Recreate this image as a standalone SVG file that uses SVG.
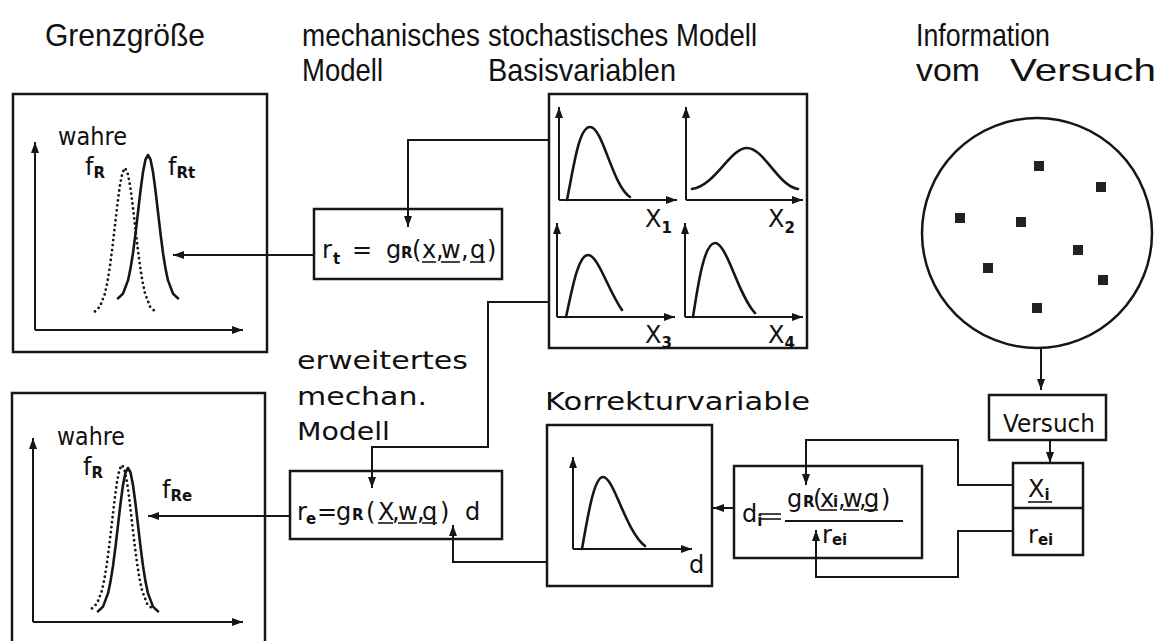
<svg xmlns="http://www.w3.org/2000/svg" width="1166" height="641" viewBox="0 0 1166 641">
<style>
.bx{fill:none;stroke:#161616;stroke-width:2.5}
.ln{fill:none;stroke:#161616;stroke-width:2}
.cv{fill:none;stroke:#161616;stroke-width:2.6;stroke-linecap:round;stroke-linejoin:round}
.dt{fill:none;stroke:#161616;stroke-width:2.8;stroke-linecap:round;stroke-dasharray:0 5}
.ul{stroke:#161616;stroke-width:1.6}
.hd{font-family:"Liberation Sans",Arial,sans-serif;font-size:32px;fill:#111}
.tx{font-family:"DejaVu Sans","Liberation Sans",sans-serif;font-size:24px;fill:#111}
.sb{font-family:"DejaVu Sans","Liberation Sans",sans-serif;font-size:15px;fill:#111;font-weight:bold}
.dot{fill:#222}
</style>
<defs>
<marker id="ah" markerUnits="userSpaceOnUse" markerWidth="11" markerHeight="8" refX="11" refY="4" orient="auto">
<path d="M0,0 L11,4 L0,8 z" fill="#161616"/>
</marker>
<path id="gauss" d="M-30,-1.6 L-25,-6.4 L-20,-19.6 L-17.5,-31.4 L-15,-47.1 L-12.5,-66.4 L-10,-87.9 L-7.5,-109.4 L-5,-128 L-2.5,-140.5 L0,-145 L2.5,-140.5 L5,-128 L7.5,-109.4 L10,-87.9 L12.5,-66.4 L15,-47.1 L17.5,-31.4 L20,-19.6 L25,-6.4 L30,-1.6"/>
</defs>
<rect width="1166" height="641" fill="#fff"/>

<g id="headers">
<text class="hd" x="45" y="46" textLength="160" lengthAdjust="spacingAndGlyphs">Grenzgröße</text>
<text class="hd" x="302" y="46" textLength="178" lengthAdjust="spacingAndGlyphs">mechanisches</text>
<text class="hd" x="302" y="81" textLength="81" lengthAdjust="spacingAndGlyphs">Modell</text>
<text class="hd" x="488" y="46" textLength="269" lengthAdjust="spacingAndGlyphs">stochastisches Modell</text>
<text class="hd" x="488" y="81" textLength="188" lengthAdjust="spacingAndGlyphs">Basisvariablen</text>
<text class="hd" x="916" y="46" textLength="134" lengthAdjust="spacingAndGlyphs">Information</text>
<text class="hd" y="81"><tspan x="916" textLength="64" lengthAdjust="spacingAndGlyphs">vom</tspan><tspan x="1010" textLength="146" lengthAdjust="spacingAndGlyphs">Versuch</tspan></text>
</g>

<g id="grenz-oben">
<rect class="bx" x="13" y="94" width="254" height="258"/>
<line class="ln" x1="35" y1="330" x2="35" y2="142" marker-end="url(#ah)"/>
<line class="ln" x1="35" y1="330" x2="243" y2="330" marker-end="url(#ah)"/>
<use href="#gauss" class="dt" transform="translate(125,313)"/>
<use href="#gauss" class="cv" transform="translate(148,300)"/>
<text class="tx" x="58" y="145" textLength="69" lengthAdjust="spacingAndGlyphs">wahre</text>
<text class="tx" x="85" y="175">f<tspan class="sb" dy="3">R</tspan></text>
<text class="tx" x="168" y="175">f<tspan class="sb" dy="3">Rt</tspan></text>
</g>

<g id="grenz-unten">
<path class="bx" d="M12,641 V393 H265 V641"/>
<line class="ln" x1="33" y1="622" x2="33" y2="438" marker-end="url(#ah)"/>
<line class="ln" x1="33" y1="622" x2="243" y2="622" marker-end="url(#ah)"/>
<use href="#gauss" class="dt" transform="translate(122,610)"/>
<use href="#gauss" class="cv" transform="translate(128,613)"/>
<text class="tx" x="57" y="445" textLength="68" lengthAdjust="spacingAndGlyphs">wahre</text>
<text class="tx" x="83" y="475">f<tspan class="sb" dy="3">R</tspan></text>
<text class="tx" x="162" y="498">f<tspan class="sb" dy="3">Re</tspan></text>
</g>

<g id="mech-modell">
<rect class="bx" x="314" y="209" width="188" height="70"/>
<text class="tx" y="258"><tspan x="322">r</tspan><tspan class="sb" x="333" dy="6">t</tspan><tspan x="352" dy="-6">=</tspan><tspan x="386">g</tspan><tspan class="sb" x="401" font-size="13">R</tspan><tspan x="412 422 436 441 461 470 487">(x,w,q)</tspan></text>
<line class="ul" x1="422" y1="262" x2="436" y2="262"/>
<line class="ul" x1="441" y1="262" x2="460" y2="262"/>
<line class="ul" x1="470" y1="262" x2="485" y2="262"/>
</g>

<g id="stoch-modell">
<rect class="bx" x="549" y="94" width="258" height="254"/>
<line class="ln" x1="559" y1="200" x2="559" y2="107" marker-end="url(#ah)"/>
<line class="ln" x1="559" y1="200" x2="677" y2="200" marker-end="url(#ah)"/>
<path class="cv" d="M567,200 C574,165 579,127 590,127 C603,127 612,185 630,197"/>
<line class="ln" x1="686" y1="200" x2="686" y2="107" marker-end="url(#ah)"/>
<line class="ln" x1="686" y1="200" x2="803" y2="200" marker-end="url(#ah)"/>
<path class="cv" d="M692,189 C715,186 730,148 747,148 C764,148 778,186 798,189"/>
<line class="ln" x1="557" y1="317" x2="557" y2="223" marker-end="url(#ah)"/>
<line class="ln" x1="557" y1="317" x2="675" y2="317" marker-end="url(#ah)"/>
<path class="cv" d="M566,317 C572,290 578,255 588,255 C598,255 608,290 622,310"/>
<line class="ln" x1="685" y1="317" x2="685" y2="223" marker-end="url(#ah)"/>
<line class="ln" x1="685" y1="317" x2="803" y2="317" marker-end="url(#ah)"/>
<path class="cv" d="M693,317 C698,285 704,243 715,243 C727,243 738,295 755,313"/>
<text class="tx" x="645" y="227">X<tspan class="sb" font-size="17" dy="6">1</tspan></text>
<text class="tx" x="768" y="227">X<tspan class="sb" font-size="17" dy="6">2</tspan></text>
<text class="tx" x="645" y="343">X<tspan class="sb" font-size="17" dy="5">3</tspan></text>
<text class="tx" x="768" y="343">X<tspan class="sb" font-size="17" dy="5">4</tspan></text>
</g>

<g id="versuchsinfo">
<circle class="bx" cx="1037" cy="233" r="115"/>
<rect class="dot" x="1034" y="161" width="10" height="10"/>
<rect class="dot" x="1096" y="182" width="10" height="10"/>
<rect class="dot" x="955" y="213" width="10" height="10"/>
<rect class="dot" x="1016" y="217" width="10" height="10"/>
<rect class="dot" x="1073" y="245" width="10" height="10"/>
<rect class="dot" x="983" y="263" width="10" height="10"/>
<rect class="dot" x="1098" y="275" width="10" height="10"/>
<rect class="dot" x="1032" y="303" width="10" height="10"/>
</g>

<g id="versuch">
<rect class="bx" x="989" y="395" width="117" height="45"/>
<text class="tx" x="1003" y="432" font-size="22" textLength="92" lengthAdjust="spacingAndGlyphs">Versuch</text>
</g>

<g id="messwerte">
<rect class="bx" x="1013" y="463" width="70" height="92"/>
<line class="bx" x1="1013" y1="508" x2="1083" y2="508"/>
<text class="tx" x="1028" y="497" font-size="22">X<tspan class="sb" dy="3">i</tspan></text>
<line class="ul" x1="1028" y1="502" x2="1052" y2="502"/>
<text class="tx" x="1028" y="543" font-size="22">r<tspan class="sb" dy="2">ei</tspan></text>
</g>

<g id="erw-text">
<text class="tx" x="297" y="369" font-size="25" textLength="171" lengthAdjust="spacingAndGlyphs">erweitertes</text>
<text class="tx" x="297" y="405" font-size="25" textLength="130" lengthAdjust="spacingAndGlyphs">mechan.</text>
<text class="tx" x="297" y="440" font-size="25" textLength="93" lengthAdjust="spacingAndGlyphs">Modell</text>
</g>

<g id="erw-modell">
<rect class="bx" x="290" y="471" width="212" height="68"/>
<text class="tx" y="520"><tspan x="297">r</tspan><tspan class="sb" x="306" dy="4">e</tspan><tspan x="317" dy="-4">=</tspan><tspan x="336">g</tspan><tspan class="sb" x="352" font-size="13">R</tspan><tspan x="366 378 392 398 417 422 440">(X,w,q)</tspan><tspan x="465">d</tspan></text>
<line class="ul" x1="378" y1="523" x2="393" y2="523"/>
<line class="ul" x1="398" y1="523" x2="417" y2="523"/>
<line class="ul" x1="422" y1="523" x2="437" y2="523"/>
</g>

<g id="korrektur">
<text class="tx" x="545" y="410" font-size="27" textLength="265" lengthAdjust="spacingAndGlyphs">Korrekturvariable</text>
<rect class="bx" x="547" y="425" width="165" height="161"/>
<line class="ln" x1="573" y1="549" x2="573" y2="457" marker-end="url(#ah)"/>
<line class="ln" x1="573" y1="549" x2="692" y2="549" marker-end="url(#ah)"/>
<path class="cv" d="M582,549 C588,515 594,477 603,477 C614,477 625,530 645,546"/>
<text class="tx" x="689" y="573">d</text>
</g>

<g id="korrektur-formel">
<rect class="bx" x="734" y="466" width="188" height="92"/>
<text class="tx" x="742" y="522">d<tspan class="sb" dy="4">i</tspan></text>
<line class="ul" x1="759" y1="514" x2="781" y2="514"/>
<line class="ul" x1="759" y1="519" x2="781" y2="519"/>
<text class="tx" y="507"><tspan x="787">g</tspan><tspan class="sb" x="803" font-size="13">R</tspan><tspan x="813 820">(x</tspan><tspan class="sb" x="833">i</tspan><tspan x="838 843 859 864 881">,w,g)</tspan></text>
<line class="ul" x1="820" y1="510" x2="837" y2="510"/>
<line class="ul" x1="843" y1="510" x2="859" y2="510"/>
<line class="ul" x1="864" y1="510" x2="878" y2="510"/>
<line class="ln" x1="785" y1="521" x2="903" y2="521"/>
<text class="tx" x="822" y="543">r<tspan class="sb" dy="2">ei</tspan></text>
</g>

<g id="connectors">
<polyline class="ln" points="549,140 408,140 408,227" marker-end="url(#ah)"/>
<polyline class="ln" points="314,255 173,255" marker-end="url(#ah)"/>
<polyline class="ln" points="549,302 488,302 488,447 372,447 372,488" marker-end="url(#ah)"/>
<polyline class="ln" points="290,516 148,516" marker-end="url(#ah)"/>
<polyline class="ln" points="547,562 453,562 453,525" marker-end="url(#ah)"/>
<polyline class="ln" points="734,508 713,508" marker-end="url(#ah)"/>
<polyline class="ln" points="1013,485 958,485 958,440 806,440 806,485" marker-end="url(#ah)"/>
<polyline class="ln" points="1013,531 958,531 958,577 816,577 816,530" marker-end="url(#ah)"/>
<polyline class="ln" points="1041,348 1041,390" marker-end="url(#ah)"/>
<polyline class="ln" points="1050,440 1050,463" marker-end="url(#ah)"/>
</g>
</svg>
